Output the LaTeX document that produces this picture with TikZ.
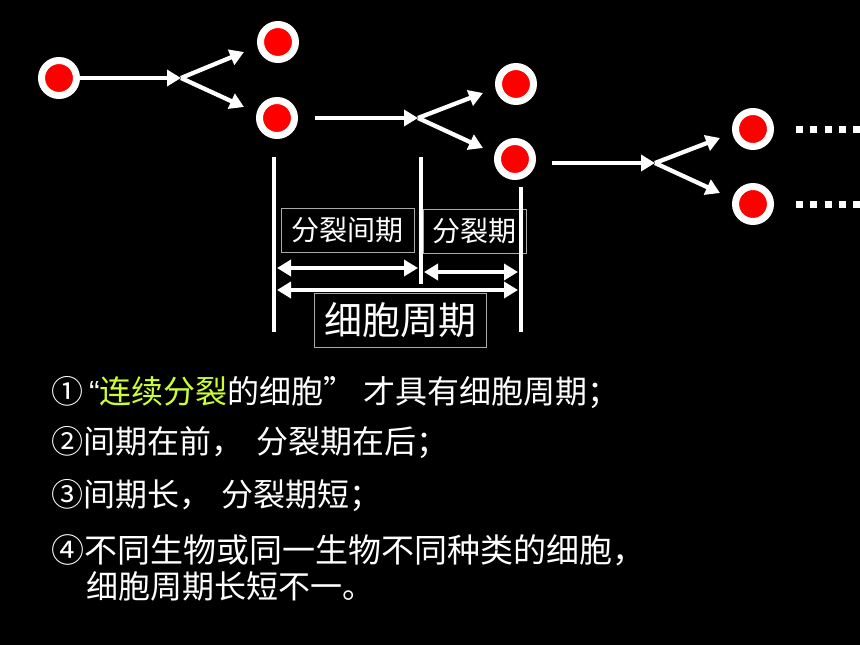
\documentclass[tikz,border=0pt]{standalone}
\usepackage{fontspec}
\setmainfont{Noto Sans CJK SC}
\newfontfamily\latinfont{Liberation Sans}
\usetikzlibrary{arrows.meta}
\definecolor{hl}{RGB}{204,255,51}
\definecolor{boxline}{RGB}{170,170,170}
\tikzset{
  cell/.style={circle,fill=red,draw=white,line width=7pt,minimum size=35pt,inner sep=0pt},
  conn/.style={white,line width=4.3pt,-{Triangle[length=14pt,width=16pt]}},
  dconn/.style={white,line width=4.3pt,{Triangle[length=14pt,width=16pt]}-{Triangle[length=14pt,width=16pt]}},
  vbar/.style={white,line width=4.3pt},
  dots/.style={white,line width=7pt,dash pattern=on 7pt off 7.3pt},
  lbl/.style={draw=boxline,line width=1pt,text=white,inner sep=0pt},
  txt/.style={text=white,anchor=base west,inner sep=0pt,font=\fontsize{32pt}{38pt}\selectfont},
}
\begin{document}
\begin{tikzpicture}[x=1pt,y=-1pt]
\fill[black] (0,0) rectangle (860,645);
\useasboundingbox (0,0) rectangle (860,645);
% cells
\node[cell] (c1) at (59,78) {};
\node[cell] (c2) at (278,42) {};
\node[cell] (c3) at (277,118) {};
\node[cell] (c4) at (516,84) {};
\node[cell] (c5) at (515,159) {};
\node[cell] (c6) at (753,129) {};
\node[cell] (c7) at (753,204) {};
% group 1
\coordinate (b1) at (181,78);
\coordinate (e1a) at (244,52);
\coordinate (e1b) at (244,107);
\draw[conn] (c1) -- (b1);
\draw[conn] (b1) -- (e1a);
\draw[conn] (b1) -- (e1b);
% group 2
\coordinate (s2) at (315,118);
\coordinate (b2) at (418,118);
\coordinate (e2a) at (483,93);
\coordinate (e2b) at (483,148);
\draw[conn] (s2) -- (b2);
\draw[conn] (b2) -- (e2a);
\draw[conn] (b2) -- (e2b);
% group 3
\coordinate (s3) at (552,163);
\coordinate (b3) at (655,163);
\coordinate (e3a) at (720,138);
\coordinate (e3b) at (720,193);
\draw[conn] (s3) -- (b3);
\draw[conn] (b3) -- (e3a);
\draw[conn] (b3) -- (e3b);
% dots
\coordinate (d1s) at (796,129);
\coordinate (d1e) at (862,129);
\coordinate (d2s) at (796,204);
\coordinate (d2e) at (862,204);
\draw[dots] (d1s) -- (d1e);
\draw[dots] (d2s) -- (d2e);
% label boxes
\node[lbl,minimum width=133pt,minimum height=44pt,font=\fontsize{28pt}{32pt}\selectfont] (lb1) at (347.5,230) {分裂间期};
\node[lbl,minimum width=103pt,minimum height=44pt,font=\fontsize{28pt}{32pt}\selectfont] (lb2) at (474.5,231) {分裂期};
\node[lbl,minimum width=172pt,minimum height=54pt,font=\fontsize{38pt}{44pt}\selectfont] (lb3) at (400,320) {细胞周期};
% vertical bars
\coordinate (v1t) at (274,157);
\coordinate (v1b) at (274,332);
\coordinate (v2t) at (421,157);
\coordinate (v2b) at (421,284);
\coordinate (v3t) at (521,187);
\coordinate (v3b) at (521,332);
\draw[vbar] (v1t) -- (v1b);
\draw[vbar] (v2t) -- (v2b);
\draw[vbar] (v3t) -- (v3b);
% double arrows
\coordinate (a1l) at (277,268);
\coordinate (a1r) at (418,268);
\coordinate (a2l) at (424,272);
\coordinate (a2r) at (518,272);
\coordinate (a3l) at (277,290);
\coordinate (a3r) at (518,290);
\draw[dconn] (a1l) -- (a1r);
\draw[dconn] (a2l) -- (a2r);
\draw[dconn] (a3l) -- (a3r);
% text
\node[txt] (t1) at (51,403) {①\hspace{6pt}{\latinfont “}{\color{hl}连续分裂}的细胞” 才具有细胞周期；};
\node[txt] (t2) at (51,453) {②间期在前，\hspace{13pt}分裂期在后；};
\node[txt] (t3) at (51,506) {③间期长，\hspace{10pt}分裂期短；};
\node[txt,font=\fontsize{33pt}{38pt}\selectfont] (t4) at (51,562) {④不同生物或同一生物不同种类的细胞，};
\node[txt] (t5) at (86,598) {细胞周期长短不一。};
\end{tikzpicture}
\end{document}
